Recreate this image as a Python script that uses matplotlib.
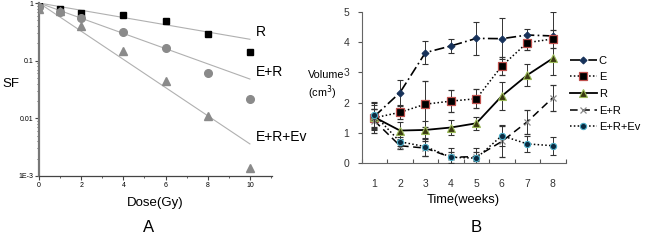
import matplotlib
matplotlib.use("Agg")
import matplotlib.pyplot as plt
import numpy as np
from matplotlib.ticker import LogLocator, NullFormatter, FixedLocator
from matplotlib.lines import Line2D

# ---- Panel A data ----
dose = [0, 1, 2, 4, 6, 8, 10]
sf_R = [0.89, 0.78, 0.68, 0.61, 0.49, 0.29, 0.14]
sf_ER = [0.85, 0.71, 0.56, 0.32, 0.166, 0.062, 0.022]
sf_ERE = [0.80, 0.72, 0.40, 0.15, 0.044, 0.011, 0.0014]
fit_dose = [0, 10]
fit_R = [1.0, 0.235]
fit_ER = [1.0, 0.048]
fit_ERE = [1.0, 0.0036]
a_labels = ["R", "E+R", "E+R+Ev"]
a_label_y = [0.235, 0.048, 0.0036]
a_xticks = [0, 2, 4, 6, 8, 10]
a_yticks = [1, 0.1, 0.01, 0.001]
a_yticklabels = ["1", "0.1", "0.01", "1E-3"]

# ---- Panel B data ----
weeks = [1, 2, 3, 4, 5, 6, 7, 8]
vol_C = [1.55, 2.33, 3.65, 3.87, 4.12, 4.11, 4.23, 4.20]
err_C = [0.45, 0.42, 0.37, 0.23, 0.55, 0.67, 0.20, 0.80]
vol_E = [1.50, 1.68, 1.95, 2.05, 2.13, 3.21, 3.98, 4.10]
err_E = [0.30, 0.22, 0.76, 0.36, 0.32, 0.30, 0.25, 0.30]
vol_R = [1.52, 1.08, 1.10, 1.18, 1.32, 2.22, 2.91, 3.46]
err_R = [0.40, 0.28, 0.30, 0.24, 0.21, 0.47, 0.36, 0.55]
vol_ER = [1.40, 0.58, 0.50, 0.20, 0.22, 0.72, 1.37, 2.16]
err_ER = [0.40, 0.12, 0.25, 0.18, 0.15, 0.50, 0.39, 0.42]
vol_ERE = [1.60, 0.71, 0.55, 0.20, 0.17, 0.91, 0.64, 0.58]
err_ERE = [0.43, 0.15, 0.30, 0.32, 0.33, 0.35, 0.26, 0.29]
b_labels = ["C", "E", "R", "E+R", "E+R+Ev"]

fig = plt.figure(figsize=(6.5, 2.4), dpi=100)
plt.rcParams['font.family'] = ['Liberation Sans', 'DejaVu Sans']

# ===== Panel A =====
ax = fig.add_axes([0.06, 0.2667, 0.3585, 0.7208])
ax.set_yscale('log')
gray_line = '#b0b0b0'
for fy in (fit_R, fit_ER, fit_ERE):
    ax.plot(fit_dose, fy, color=gray_line, lw=0.8, zorder=1)
ax.plot(dose, sf_R, 's', color='black', ms=5, zorder=3)
ax.plot(dose, sf_ER, 'o', color='#8a8a8a', ms=5.5, zorder=3)
ax.plot(dose, sf_ERE, '^', color='#8a8a8a', ms=5.5, zorder=3)
for lab, yv in zip(a_labels, a_label_y):
    ax.text(10.3, yv, lab, fontsize=10, va='bottom', ha='left', clip_on=False)
ax.set_xlim(0, 11.05)
ax.set_ylim(0.001, 1)
ax.set_xticks(a_xticks)
ax.set_xticks([1, 3, 5, 7, 9, 11], minor=True)
ax.set_yticks(a_yticks)
ax.set_yticklabels(a_yticklabels)
ax.yaxis.set_minor_locator(LogLocator(base=10, subs=np.arange(2, 10) * 1.0, numticks=20))
ax.yaxis.set_minor_formatter(NullFormatter())
ax.tick_params(axis='both', which='major', labelsize=5, length=3, width=0.8, color='#444444', pad=1)
ax.tick_params(axis='both', which='minor', length=1.5, width=0.6, color='#444444')
for s in ('top', 'right'):
    ax.spines[s].set_visible(False)
ax.spines['left'].set_color('#777777')
ax.spines['left'].set_linewidth(1.6)
ax.spines['bottom'].set_color('#444444')
ax.spines['bottom'].set_linewidth(0.9)
ax.set_xlabel("Dose(Gy)", fontsize=9.5, labelpad=6)
fig.text(0.003, 0.652, "SF", fontsize=9.5, va='center', ha='left')
fig.text(0.228, 0.05, "A", fontsize=12, ha='center', va='center')

# ===== Panel B =====
bx = fig.add_axes([0.5565, 0.3196, 0.3135, 0.6317])
ekw = dict(elinewidth=0.7, capsize=2, capthick=0.7, ecolor='#333333')
styles = [
    dict(marker='D', ls=(0, (6, 2, 1, 2)), lw=1.2, mfc='#17325a', mec='#17325a', ms=3.5, mew=0.8),
    dict(marker='s', ls=(0, (1, 1.5)), lw=1.1, mfc='black', mec='#c0504d', mew=0.9, ms=5.5),
    dict(marker='^', ls='-', lw=1.3, mfc='#3a3a10', mec='#9bbb59', mew=0.8, ms=5.5),
    dict(marker='x', ls=(0, (5, 3)), lw=1.1, mfc='#888888', mec='#888888', ms=5, mew=0.9),
    dict(marker='o', ls=(0, (1, 1.5)), lw=1.1, mfc='#0b2a40', mec='#4bacc6', mew=0.8, ms=4.5),
]
series = [(vol_C, err_C), (vol_E, err_E), (vol_R, err_R), (vol_ER, err_ER), (vol_ERE, err_ERE)]
handles = []
for i, ((v, e), st) in enumerate(zip(series, styles)):
    bx.errorbar(weeks, v, yerr=e, color='black', zorder=3 + (i == 4), **st, **ekw)
    handles.append(Line2D([], [], color='black', **st))
bx.set_xlim(0.5, 8.5)
bx.set_ylim(0, 5)
bx.set_xticks(weeks)
bx.xaxis.set_minor_locator(FixedLocator(np.arange(0.5, 8.6, 1.0)))
bx.set_yticks([0, 1, 2, 3, 4, 5])
bx.tick_params(axis='x', which='major', length=0, labelsize=7.5, pad=11, labelcolor='#333333')
bx.tick_params(axis='x', which='minor', length=3, width=0.8, color='#555555', direction='in')
bx.tick_params(axis='y', which='major', length=3, width=0.8, color='#555555', labelsize=7.5,
               labelcolor='#333333', direction='out', pad=6)
for s in ('top', 'right'):
    bx.spines[s].set_visible(False)
bx.spines['left'].set_color('#666666')
bx.spines['bottom'].set_color('#666666')
bx.set_xlabel("Time(weeks)", fontsize=9.3, labelpad=4)
fig.text(0.474, 0.64, "Volume\n(cm$^3$)", fontsize=7.8, ha='left', va='center',
         linespacing=1.25)
fig.text(0.732, 0.05, "B", fontsize=12, ha='center', va='center')
leg = bx.legend(handles, b_labels, loc='upper left', bbox_to_anchor=(1.0, 0.74), frameon=False,
                fontsize=8, handlelength=2.4, handletextpad=0.2, labelspacing=0.6,
                borderaxespad=0)

fig.savefig("out.png", dpi=100)
